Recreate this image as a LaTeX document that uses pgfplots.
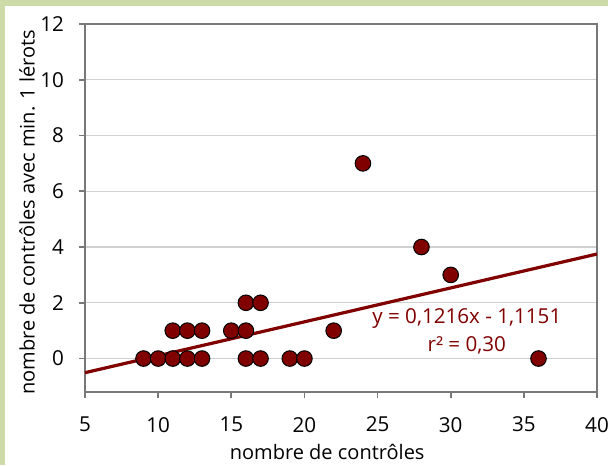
\documentclass[border=0pt]{standalone}
\usepackage{fontspec}
\setmainfont{Open Sans}
\usepackage{pgfplots}
\pgfplotsset{compat=1.18}
\definecolor{bggreen}{RGB}{205,219,168}
\definecolor{dred}{RGB}{128,0,0}
\definecolor{axgray}{RGB}{120,120,120}
\definecolor{gridgray}{RGB}{208,208,208}
\begin{document}
\begin{tikzpicture}
\useasboundingbox (0,0) rectangle (304pt,232.5pt);
\clip (0,0) rectangle (304pt,232.5pt);
\fill[bggreen] (0,0) rectangle (304pt,232.5pt);
\fill[white] (2.5pt,0) rectangle (304pt,229.5pt);
\begin{axis}[
 at={(42.5pt,36.5pt)}, anchor=south west,
 scale only axis, width=256pt, height=184pt,
 xmin=5, xmax=40, ymin=-1.2, ymax=12,
 xtick={5,10,...,40}, ytick={0,2,...,12},
 ymajorgrids, major grid style={gridgray, line width=0.6pt},
 axis line style={axgray, line width=0.8pt},
 tick style={axgray, line width=0.8pt},
 tick align=outside, xtick pos=left, ytick pos=left,
 major tick length=3pt,
 tick label style={font=\fontsize{10.3}{12}\selectfont},
 /pgf/number format/assume math mode=true,
 xticklabel style={yshift=-6pt},
 yticklabel style={xshift=-4pt},
 xlabel={nombre de contrôles},
 ylabel={nombre de contrôles avec min. 1 lérots},
 label style={font=\fontsize{10}{12}\selectfont},
 xlabel style={at={(axis description cs:0.473,0)}, anchor=center, yshift=-30pt},
 ylabel style={at={(axis description cs:-0.113,0.488)}, anchor=center},
 clip=false,
]
\addplot[dred, line width=1.6pt] coordinates {(5,-0.5071) (40,3.7489)};
\addplot[only marks, mark=*, mark size=3.9pt, mark options={fill=dred, draw=black, line width=0.5pt}] coordinates {
(9,0) (10,0) (11,0) (12,0) (13,0)
(11,1) (12,1) (13,1) (15,1) (16,1)
(16,2) (17,2) (16,0) (17,0) (19,0) (20,0)
(22,1) (24,7) (28,4) (30,3) (36,0)
};
\node[dred, font=\fontsize{10.3}{12}\selectfont] at (axis cs:31.1,1.43) {y = 0,1216x - 1,1151};
\node[dred, font=\fontsize{10.3}{12}\selectfont] at (axis cs:31.1,0.47) {r² = 0,30};
\end{axis}
\end{tikzpicture}
\end{document}
